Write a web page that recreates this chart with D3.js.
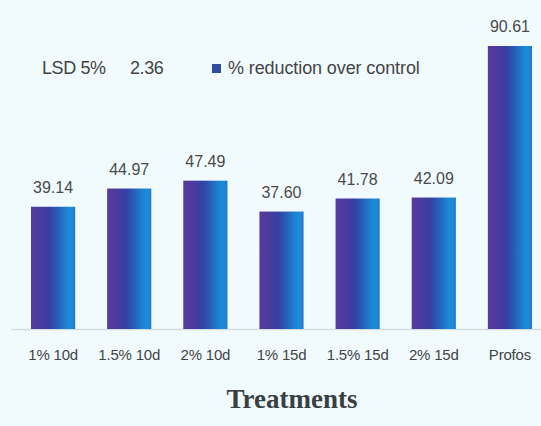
<!DOCTYPE html>
<html>
<head>
<meta charset="utf-8">
<script src="https://cdn.jsdelivr.net/npm/d3@7"></script>
<style>
  html, body { margin: 0; padding: 0; background: #f1fbfd; }
  svg { display: block; }
</style>
</head>
<body>
<svg id="chart" width="541" height="426"></svg>
<script>
// Treatments and % reduction over control
const categories = ["1% 10d", "1.5% 10d", "2% 10d", "1% 15d", "1.5% 15d", "2% 15d", "Profos"];
const reduction = [39.14, 44.97, 47.49, 37.60, 41.78, 42.09, 90.61];
const valueLabels = ["39.14", "44.97", "47.49", "37.60", "41.78", "42.09", "90.61"];
const seriesName = "% reduction over control";
const lsdText = ["LSD 5%", "2.36"];
const axisTitle = "Treatments";

const svg = d3.select("#chart");
const W = 541, H = 426;
const sans = "Liberation Sans, Arial, sans-serif";

svg.append("rect").attr("width", W).attr("height", H).attr("fill", "#f1fbfd");

const plot = { left: 31, right: 532, top: 46, bottom: 329 };

const x = d3.scaleBand()
  .domain(categories)
  .range([plot.left, plot.right])
  .paddingInner(0.42)
  .paddingOuter(0);

const y = d3.scaleLinear()
  .domain([0, 90.61])
  .range([plot.bottom, plot.top]);

// horizontal bar shading: violet on the left to bright blue on the right
const defs = svg.append("defs");
const grad = defs.append("linearGradient")
  .attr("id", "barFill")
  .attr("x1", "0").attr("x2", "1").attr("y1", "0").attr("y2", "0");
[
  [0, "#553c9c"], [0.2, "#4d3a9d"], [0.42, "#363fa3"],
  [0.62, "#2660b9"], [0.82, "#1b86d4"], [0.92, "#1a8ddb"], [1, "#2a74c6"]
].forEach(([o, c]) => grad.append("stop").attr("offset", o).attr("stop-color", c));

// baseline
svg.append("line")
  .attr("x1", 11).attr("x2", W)
  .attr("y1", plot.bottom + 0.5).attr("y2", plot.bottom + 0.5)
  .attr("stroke", "#d5dde0").attr("stroke-width", 1.5);

// bars
svg.selectAll("rect.bar")
  .data(categories)
  .join("rect")
  .attr("class", "bar")
  .attr("x", d => x(d))
  .attr("width", x.bandwidth())
  .attr("y", (d, i) => y(reduction[i]))
  .attr("height", (d, i) => y(0) - y(reduction[i]))
  .attr("fill", "url(#barFill)");

// value labels
svg.selectAll("text.val")
  .data(categories)
  .join("text")
  .attr("class", "val")
  .attr("x", d => x(d) + x.bandwidth() / 2)
  .attr("y", (d, i) => y(reduction[i]) - 14)
  .attr("text-anchor", "middle")
  .attr("font-family", sans)
  .attr("font-size", 16)
  .attr("fill", "#4a4a4a")
  .text((d, i) => valueLabels[i]);

// category axis
const xAxis = svg.append("g")
  .attr("transform", `translate(0,${plot.bottom})`)
  .call(d3.axisBottom(x).tickSize(0).tickPadding(20));
xAxis.select(".domain").remove();
xAxis.selectAll("text")
  .attr("font-family", sans)
  .attr("font-size", 15)
  .attr("fill", "#444")
  .attr("letter-spacing", "-0.2");

// axis title
svg.append("text")
  .attr("x", 292).attr("y", 408)
  .attr("text-anchor", "middle")
  .attr("font-family", "Liberation Serif, Times New Roman, serif")
  .attr("font-size", 27)
  .attr("font-weight", "bold")
  .attr("fill", "#3a3f44")
  .text(axisTitle);

// LSD note
svg.append("text")
  .attr("x", 42).attr("y", 74)
  .attr("font-family", sans)
  .attr("font-size", 18)
  .attr("fill", "#444")
  .attr("letter-spacing", "-0.4")
  .text(lsdText[0]);
svg.append("text")
  .attr("x", 130).attr("y", 74)
  .attr("font-family", sans)
  .attr("font-size", 18)
  .attr("fill", "#444")
  .attr("letter-spacing", "-0.4")
  .text(lsdText[1]);

// legend
svg.append("rect")
  .attr("x", 212).attr("y", 64).attr("width", 9).attr("height", 9)
  .attr("fill", "#2f4f9e");
svg.append("text")
  .attr("x", 228).attr("y", 74)
  .attr("font-family", sans)
  .attr("font-size", 18)
  .attr("fill", "#444")
  .attr("letter-spacing", "-0.1")
  .text(seriesName);
</script>
</body>
</html>
